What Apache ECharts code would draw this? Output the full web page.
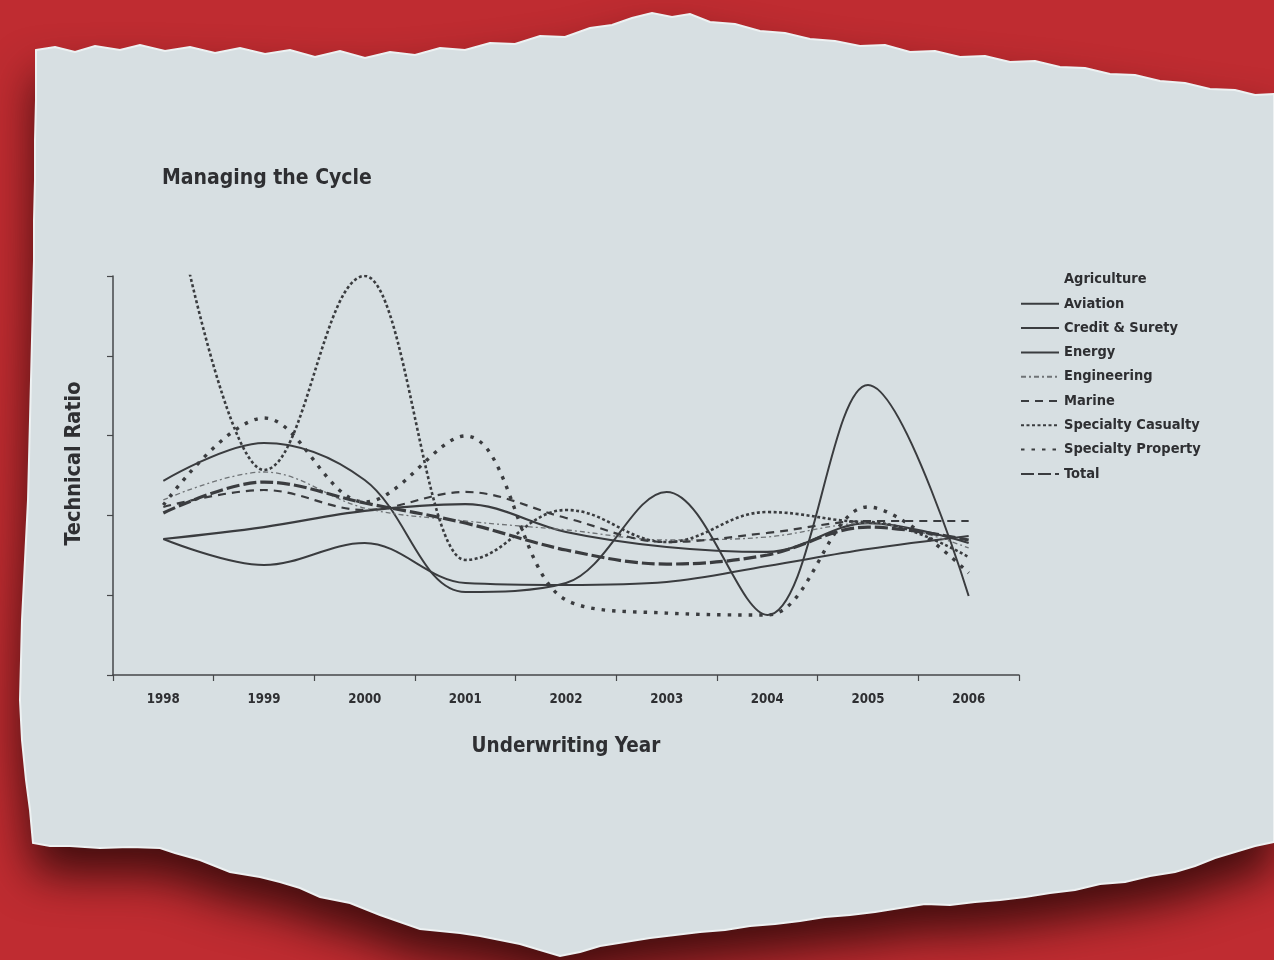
<!DOCTYPE html>
<html>
<head>
<meta charset="utf-8">
<title>Managing the Cycle</title>
<script src="https://cdn.jsdelivr.net/npm/echarts@6/dist/echarts.min.js"></script>
<style>
  html, body { margin: 0; padding: 0; background: #bf2c31; }
  #chart { width: 1274px; height: 960px; }
</style>
</head>
<body>
<div id="chart"></div>
<script>
// Underwriting years on the category axis
const years = ['1998', '1999', '2000', '2001', '2002', '2003', '2004', '2005', '2006'];

// Technical ratio by line of business (%)
const agriculture = [];
const aviation = [121.6, 145.4, 122.2, 52.0, 57.6, 114.7, 37.6, 181.7, 49.5];
const creditSurety = [85.2, 92.7, 102.8, 107.1, 89.6, 80.2, 77.1, 95.2, 82.7];
const energy = [85.2, 68.9, 82.7, 57.6, 56.4, 58.3, 68.3, 78.9, 87.1];
const engineering = [109.7, 127.2, 104.6, 96.5, 90.9, 84.6, 86.5, 95.2, 79.6];
const marine = [105.3, 115.9, 103.4, 114.7, 98.4, 83.3, 89.0, 96.5, 96.5];
const specialtyCasualty = [329.0, 128.4, 250.0, 72.1, 103.4, 83.3, 102.1, 95.9, 73.9];
const specialtyProperty = [106.5, 161.0, 108.4, 149.8, 47.0, 38.8, 37.6, 105.3, 63.9];
const total = [101.5, 120.9, 107.8, 95.2, 78.3, 69.5, 75.2, 92.7, 84.6];

// Torn paper sheet behind the chart (decorative outline, pixel coordinates)
const paperOutline = [
  [36,50],[55,47],[75,52],[95,46],[120,50],[140,45],[165,51],[190,47],[215,53],[240,48],
  [265,54],[290,50],[315,57],[340,51],[365,58],[390,52],[415,55],[440,48],[465,50],[490,43],
  [515,44],[540,36],[565,37],[590,28],[612,25],[632,18],[652,13],[672,17],[690,14],[710,22],
  [735,24],[760,31],[785,33],[810,39],[835,41],[860,46],[885,45],[910,52],[935,51],[960,57],
  [985,56],[1010,62],[1035,61],[1060,67],[1085,68],[1110,74],[1135,75],[1160,81],[1185,83],
  [1210,89],[1235,90],[1255,95],[1274,94],
  [1274,842],[1255,846],[1235,852],[1215,858],[1195,866],[1175,872],[1150,876],[1125,882],
  [1100,884],[1075,890],[1050,893],[1025,897],[1000,900],[975,902],[950,905],[925,904],
  [900,908],[875,912],[850,915],[825,917],[800,921],[775,924],[750,926],[725,930],[700,932],
  [675,935],[650,938],[625,942],[600,946],[580,952],[560,956],[540,950],[520,944],[500,940],
  [480,936],[460,933],[440,931],[420,929],[400,922],[380,915],[350,903],[320,897],[300,888],
  [280,882],[260,877],[230,872],[200,860],[175,853],[160,848],[130,847],[100,848],[70,846],
  [50,846],[33,843],
  [30,810],[26,780],[22,740],[20,700],[21,660],[22,620],[24,580],[26,540],[28,500],[29,460],
  [30,420],[31,380],[32,340],[33,300],[34,260],[34,220],[35,180],[35,140],[36,100]
];

const FONT = "'DejaVu Sans Condensed', 'Liberation Sans', Arial, sans-serif";
const INK = '#3a3c3f';
const TEXT = '#2e2f32';

function lineSeries(name, values, style, smoothing) {
  const s = {
    name: name,
    type: 'line',
    data: values,
    smooth: 0.36,
    symbol: 'none',
    clip: true,
    lineStyle: Object.assign({ color: INK, width: 2 }, style),
    itemStyle: { color: style && style.color ? style.color : INK },
    emphasis: { disabled: true }
  };
  return Object.assign(s, smoothing || {});
}

// wave-like series: flat tangents at each yearly point
const WAVE = { smooth: 0.4, smoothMonotone: 'x' };

const chart = echarts.init(document.getElementById('chart'), null, { renderer: 'canvas' });

chart.setOption({
  animation: false,
  backgroundColor: '#bf2c31',
  textStyle: { fontFamily: FONT },
  graphic: {
    elements: [
      {
        // shadow cast by the sheet onto the red page
        type: 'polygon',
        z: -20,
        silent: true,
        shape: { points: paperOutline },
        style: {
          fill: '#d7dfe2',
          shadowColor: 'rgba(45, 8, 8, 0.85)',
          shadowBlur: 45,
          shadowOffsetY: 28
        }
      },
      {
        // the sheet itself with a pale torn rim
        type: 'polygon',
        z: -10,
        silent: true,
        shape: { points: paperOutline },
        style: { fill: '#d7dfe2', stroke: '#edf1f2', lineWidth: 2 }
      }
    ]
  },
  title: {
    text: 'Managing the Cycle',
    left: 162,
    top: 168,
    padding: 0,
    textStyle: { fontFamily: FONT, fontWeight: 'bold', fontSize: 21, color: TEXT }
  },
  legend: {
    orient: 'vertical',
    left: 1020,
    top: 272,
    padding: 0,
    itemWidth: 38,
    itemHeight: 14,
    itemGap: 9.3,
    selectedMode: false,
    itemStyle: { opacity: 0 },
    textStyle: { fontFamily: FONT, fontWeight: 'bold', fontSize: 14.5, color: TEXT },
    data: [
      { name: 'Agriculture', icon: 'none' },
      'Aviation', 'Credit & Surety', 'Energy', 'Engineering', 'Marine',
      'Specialty Casualty', 'Specialty Property', 'Total'
    ]
  },
  grid: { left: 113, top: 276, width: 906, height: 399, containLabel: false },
  xAxis: {
    type: 'category',
    data: years,
    boundaryGap: true,
    name: 'Underwriting Year',
    nameLocation: 'middle',
    nameGap: 61,
    nameTextStyle: { fontFamily: FONT, fontWeight: 'bold', fontSize: 20.5, color: TEXT },
    axisLine: { lineStyle: { color: '#45474a', width: 1.5 } },
    axisTick: { show: true, length: 6, lineStyle: { color: '#45474a', width: 1.2 } },
    axisLabel: { margin: 18, fontFamily: FONT, fontWeight: 'bold', fontSize: 13.2, color: TEXT },
    splitLine: { show: false }
  },
  yAxis: {
    type: 'value',
    min: 0,
    max: 250,
    interval: 50,
    name: 'Technical Ratio',
    nameLocation: 'middle',
    nameGap: 28,
    nameTextStyle: {
      fontFamily: FONT, fontWeight: 'bold', fontSize: 21.5, color: TEXT,
      padding: [0, 0, 0, 24]
    },
    axisLine: { show: true, lineStyle: { color: '#45474a', width: 1.5 } },
    axisTick: { show: true, length: 6, lineStyle: { color: '#45474a', width: 1.2 } },
    axisLabel: { show: false },
    splitLine: { show: false }
  },
  series: [
    lineSeries('Agriculture', agriculture, { opacity: 0 }),
    lineSeries('Aviation', aviation, { width: 2 }),
    lineSeries('Credit & Surety', creditSurety, { width: 2.2 }),
    lineSeries('Energy', energy, { width: 2 }),
    lineSeries('Engineering', engineering, { width: 1.3, color: '#6f7376', type: [5, 3, 2, 3] }),
    lineSeries('Marine', marine, { width: 2.2, type: [8, 6] }),
    lineSeries('Specialty Casualty', specialtyCasualty, { width: 2.6, type: [3, 2.5] }, WAVE),
    lineSeries('Specialty Property', specialtyProperty, { width: 3.4, type: [3.5, 7] }),
    lineSeries('Total', total, { width: 3.2, type: [13, 4] })
  ]
});
</script>
</body>
</html>
